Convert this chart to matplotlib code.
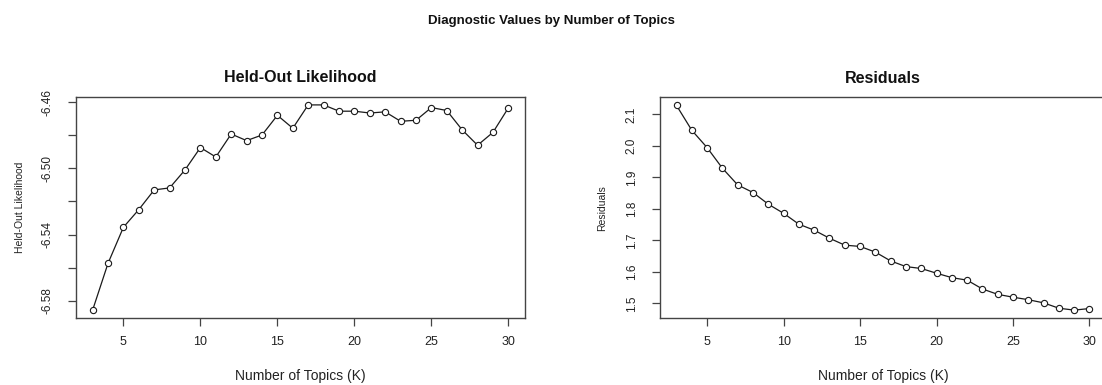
import matplotlib
matplotlib.use("Agg")
import matplotlib.pyplot as plt

plt.rcParams['font.family'] = ['Liberation Sans', 'DejaVu Sans']
plt.rcParams['axes.unicode_minus'] = False

topics = list(range(3, 31))
heldout = [-6.5857, -6.5574, -6.5356, -6.5249, -6.5130, -6.5118, -6.5009, -6.4874,
           -6.4931, -6.4792, -6.4832, -6.4798, -6.4679, -6.4757, -6.4616, -6.4616,
           -6.4654, -6.4654, -6.4665, -6.4658, -6.4715, -6.4709, -6.4632, -6.4650,
           -6.4767, -6.4860, -6.4782, -6.4634]
residuals = [2.1280, 2.0493, 1.9944, 1.9290, 1.8760, 1.8520, 1.8150, 1.7860,
             1.7515, 1.7325, 1.7070, 1.6850, 1.6810, 1.6630, 1.6350, 1.6170,
             1.6110, 1.5960, 1.5820, 1.5740, 1.5460, 1.5290, 1.5200, 1.5120,
             1.5020, 1.4850, 1.4790, 1.4840]

x_ticks = [5, 10, 15, 20, 25, 30]
left_yticks = [-6.58, -6.56, -6.54, -6.52, -6.50, -6.48, -6.46]
left_ylabels = ['-6.58', '', '-6.54', '', '-6.50', '', '-6.46']
right_yticks = [1.5, 1.6, 1.7, 1.8, 1.9, 2.0, 2.1]
right_ylabels = ['1.5', '1.6', '1.7', '1.8', '1.9', '2.0', '2.1']

W, H = 1102, 385
fig = plt.figure(figsize=(W / 100, H / 100), dpi=100)

def make_ax(x0, x1, y0, y1):
    return fig.add_axes([x0 / W, 1 - y1 / H, (x1 - x0) / W, (y1 - y0) / H])

boxes = [(76, 525, 96.7, 318.3), (660, 1106, 97.3, 318.3)]
ax1 = make_ax(*boxes[0])
ax2 = make_ax(*boxes[1])

line_c = '#1a1a1a'
spine_c = '#444444'
text_c = '#222222'

def style(ax, box, yvals, ylabels_t, ytick_labels, title, ylabel, ylab_x):
    x0, x1, y0, y1 = box
    ax.plot(topics, yvals, color=line_c, lw=0.9, marker='o', ms=4.5,
            mfc='white', mec=line_c, mew=0.8, zorder=3)
    ax.margins(x=0.04, y=0.04)
    ax.set_xticks(x_ticks)
    ax.set_xticklabels([str(t) for t in x_ticks], fontsize=9, color=text_c)
    ax.set_yticks(ylabels_t)
    ax.set_yticklabels(ytick_labels, fontsize=8.5, color=text_c, rotation=90,
                       va='center')
    ax.tick_params(axis='x', length=6, width=0.9, color=spine_c, pad=7)
    ax.tick_params(axis='y', length=6, width=0.9, color=spine_c, pad=10)
    for s in ax.spines.values():
        s.set_color(spine_c)
        s.set_linewidth(1.0)
    ax.set_title(title, fontsize=11.5, fontweight='bold', pad=10.5, color='#111111')
    xl = ax.set_xlabel('Number of Topics (K)', fontsize=10, color=text_c)
    xl.set_va('center')
    ax.xaxis.set_label_coords(0.5, -(375.7 - y1) / (y1 - y0))
    yl = ax.set_ylabel(ylabel, fontsize=7.5, color=text_c)
    yl.set_va('center')
    ax.yaxis.set_label_coords((ylab_x - x0) / (x1 - x0), 0.5)

style(ax1, boxes[0], heldout, left_yticks, left_ylabels, 'Held-Out Likelihood',
      'Held-Out Likelihood', 20)
style(ax2, boxes[1], residuals, right_yticks, right_ylabels, 'Residuals',
      'Residuals', 602)

fig.text(551 / W, 1 - 21 / H, 'Diagnostic Values by Number of Topics',
         ha='center', va='center', fontsize=9.5, fontweight='bold', color='#111111')

fig.savefig('out.png', dpi=100)
